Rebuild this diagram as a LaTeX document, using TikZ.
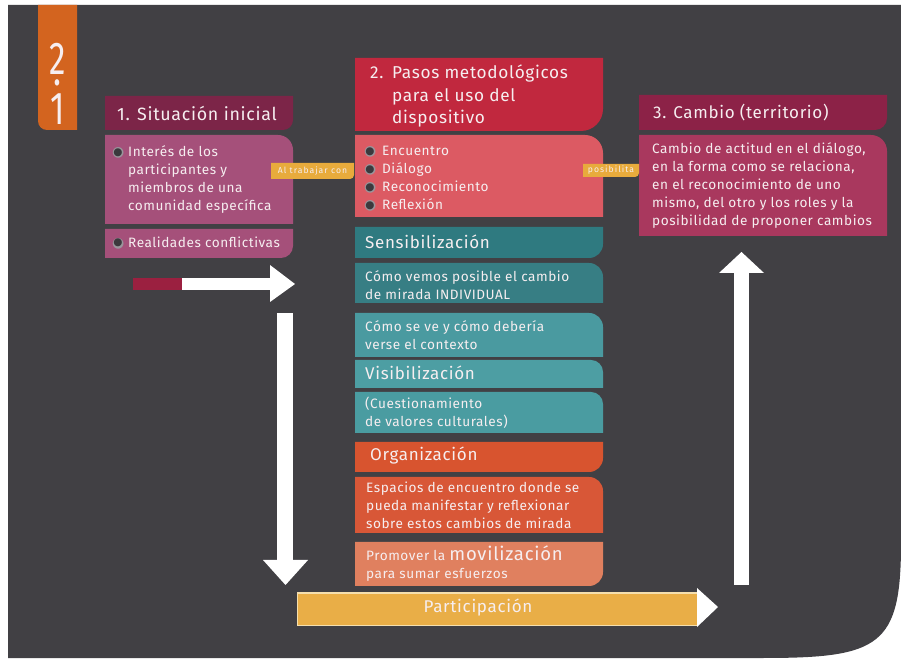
\documentclass[tikz,border=0pt]{standalone}
\usepackage{fontspec}
\setmainfont{Fira Sans}[LetterSpace=4]
\newfontfamily\tagfont{Fira Sans}[LetterSpace=12]
\newfontfamily\symfont{DejaVu Sans}
\usetikzlibrary{backgrounds}

% palette
\definecolor{panel}{HTML}{414044}
\definecolor{tabor}{HTML}{D3641F}
\definecolor{plumhd}{HTML}{7C2548}
\definecolor{plumbd}{HTML}{A5507A}
\definecolor{redhd}{HTML}{C1283E}
\definecolor{redbd}{HTML}{DC5A63}
\definecolor{wine}{HTML}{8C2247}
\definecolor{winebd}{HTML}{A9385E}
\definecolor{tagyel}{HTML}{E8AB3C}
\definecolor{tealA}{HTML}{2F7A80}
\definecolor{tealB}{HTML}{377E84}
\definecolor{tealC}{HTML}{4A9AA0}
\definecolor{tealD}{HTML}{4D9EA3}
\definecolor{tealE}{HTML}{4A9CA1}
\definecolor{orA}{HTML}{D8542F}
\definecolor{orB}{HTML}{D85737}
\definecolor{orC}{HTML}{E0805F}
\definecolor{partbar}{HTML}{E9AE47}
\definecolor{partrim}{HTML}{F5DFAE}
\definecolor{arrowred}{HTML}{9B2040}
\definecolor{bulc}{HTML}{3B393D}
\definecolor{bulring}{HTML}{9A969C}
\definecolor{ink}{HTML}{F6EEF0}

% type sizes
\newcommand{\hd}{\fontsize{17}{20}\selectfont}
\newcommand{\bd}{\fontsize{13.6}{18}\selectfont}
\newcommand{\tg}{\tagfont\fontsize{8.6}{9}\selectfont}
\newcommand{\bul}{{\symfont\fontsize{14}{14}\selectfont
  \rlap{\textcolor{bulring}{●}}\hspace{1.05pt}\raisebox{1.5pt}{\scalebox{0.75}{\textcolor{bulc}{●}}}}}
\newcommand{\bi}[1]{\makebox[#1][l]{\bul}}
\newcommand{\narrow}[1]{\scalebox{0.72}[1]{#1}}

% panels: fill colour, x1, top, x2, bottom, radius of the one rounded corner
\newcommand{\boxBR}[6]{\fill[#1] (#2,#3) -- (#4,#3) -- (#4,{#5+#6}) arc[start angle=0,end angle=-90,radius=#6] -- (#2,#5) -- cycle;}
\newcommand{\boxTR}[6]{\fill[#1] (#2,#5) -- (#4,#5) -- (#4,{#3-#6}) arc[start angle=0,end angle=90,radius=#6] -- (#2,#3) -- cycle;}
\newcommand{\boxBL}[6]{\fill[#1] (#4,#3) -- (#2,#3) -- (#2,{#5+#6}) arc[start angle=180,end angle=270,radius=#6] -- (#4,#5) -- cycle;}

\tikzset{
  txt/.style={anchor=west, inner sep=0pt, align=left, text=ink, font=\bd},
  ttl/.style={txt, font=\hd},
  tagtxt/.style={inner sep=0pt, text=ink, font=\tg},
  digit/.style={inner sep=0pt, align=center, text=ink, font=\fontsize{46}{46}\selectfont},
}

\begin{document}
\begin{tikzpicture}[x=1pt,y=1pt]
\useasboundingbox (0,0) rectangle (901,658);

% dark board
\fill[white] (0,0) rectangle (901,658);
\fill[panel] (8,0) -- (8,653) -- (901,653) -- (901,115)
  .. controls (901,12) and (880,0) .. (763,0) -- cycle;

% chapter tab
\boxBL{tabor}{38}{653}{77}{528}{9}
\node[digit] (tabnum) at (57.5,574) {\narrow{2}\\[-35pt]\narrow{.}\\[-7pt]\narrow{1}};

% column 1
\boxBR{plumhd}{105}{562}{293}{528}{10}
\boxTR{plumbd}{105}{523}{293}{434}{15}
\boxBR{plumbd}{105}{429}{293}{400}{12}
\node[ttl, font=\fontsize{17.8}{20}\selectfont] (h1) at (117,545) {1. Situación inicial};
\node[txt] (b1) at (112,478) {\bi{16pt}Interés de los\\
  \hspace*{16pt}participantes y\\
  \hspace*{16pt}miembros de una\\
  \hspace*{16pt}comunidad específica};
\node[txt] (b1b) at (112,415) {\bi{16pt}Realidades conflictivas};

% column 2
\boxBR{redhd}{355}{600}{603}{527}{22}
\boxTR{redbd}{355}{523}{603}{441}{18}
\node[txt, font=\fontsize{17.2}{22.5}\selectfont] (h2) at (370,562)
  {\makebox[22pt][l]{2.}Pasos metodológicos\\
   \hspace*{22pt}para el uso del\\
   \hspace*{22pt}dispositivo};
\node[txt] (b2) at (364,479) {\bi{18pt}Encuentro\\
  \bi{18pt}Diálogo\\
  \bi{18pt}Reconocimiento\\
  \bi{18pt}Reflexión};

\boxBR{tealA}{355}{431}{603}{400}{14}
\boxTR{tealB}{355}{395}{603}{355}{14}
\boxTR{tealC}{355}{345}{603}{301}{14}
\boxTR{tealD}{355}{298}{603}{270}{12}
\boxTR{tealE}{355}{266}{603}{225}{12}
\node[ttl] (s1) at (365,416) {Sensibilización};
\node[txt] (s2) at (365,373) {Cómo vemos posible el cambio\\de mirada INDIVIDUAL};
\node[txt] (s3) at (365,323) {Cómo se ve y cómo debería\\verse el contexto};
\node[ttl] (s4) at (365,285) {Visibilización};
\node[txt] (s5) at (365,245) {(Cuestionamiento\\de valores culturales)};

\boxBR{orA}{355}{216}{603}{186}{14}
\boxTR{orB}{355}{181}{603}{125}{14}
\boxBR{orC}{355}{116}{603}{72}{14}
\node[ttl] (o1) at (370,202) {Organización};
\node[txt] (o2) at (366,153) {Espacios de encuentro donde se\\pueda manifestar y reflexionar\\sobre estos cambios de mirada};
\node[txt] (o3) at (366,94) {Promover la {\fontsize{18.5}{18}\selectfont movilización}\\para sumar esfuerzos};

% column 3
\boxBR{wine}{639}{563}{887}{528}{12}
\boxTR{winebd}{639}{523}{887}{422}{16}
\node[ttl] (h3) at (653,545) {3. Cambio (territorio)};
\node[txt] (b3) at (652,472) {Cambio de actitud en el diálogo,\\
  en la forma como se relaciona,\\
  en el reconocimiento de uno\\
  mismo, del otro y los roles y la\\
  posibilidad de proponer cambios};

% link tags
\boxBR{tagyel}{271}{495}{354}{479}{4}
\node[tagtxt] (tag1) at (312.5,487) {Al trabajar con};
\boxBR{tagyel}{583}{494}{639}{481}{4}
\node[tagtxt] (tag2) at (611,487.5) {posibilita};

% participation bar
\fill[partbar, draw=partrim, line width=1pt] (297,65) rectangle (697,33);
\fill[white] (697,70) -- (718,51) -- (697,31) -- cycle;
\node[ttl, anchor=center, font=\fontsize{17}{20}\selectfont] (part) at (478,50) {Participación};

% block arrows
\fill[arrowred] (133,380) rectangle (182,368);
\fill[white] (182,380) rectangle (271,368);
\fill[white] (270,393) -- (295,374) -- (270,356) -- cycle;

\fill[white] (277,345) rectangle (293,97);
\fill[white] (263,98) -- (308,98) -- (285.5,73) -- cycle;

\fill[white] (734,385) rectangle (749,73);
\fill[white] (719,385) -- (764,385) -- (741.5,406) -- cycle;
\end{tikzpicture}
\end{document}
